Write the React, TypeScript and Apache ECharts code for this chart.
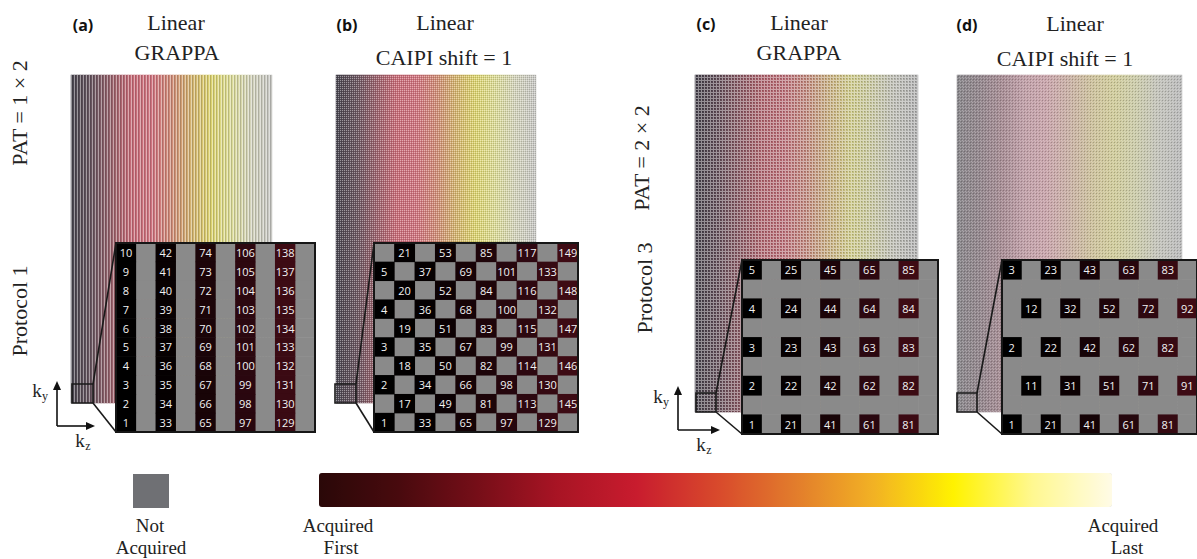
import React, { useEffect, useRef } from "react";
import * as echarts from "echarts";

// ---------- data ----------
// colour map of acquisition order (first -> last), evenly spaced stops
const COLORMAP = [
  "#2a0808", "#480a0e", "#760e18", "#a81424", "#c81c2e", "#d8482c",
  "#e27c2c", "#f2b224", "#fff200", "#fff890", "#fffbe6",
];
// how the colour map looks once mixed with the non-acquired points of each full pattern
const PATTERN_COLORS_AB = [
  "#4a4650", "#6a5660", "#9a626c", "#c86c78", "#d07480", "#d08c78",
  "#d4b470", "#dcd470", "#dcdc98", "#d4d4bc", "#c8c8c4",
];
const PATTERN_COLORS_C = [
  "#3e3a44", "#5a4650", "#80505a", "#a45862", "#b0606a", "#b4786c",
  "#bca070", "#c4c07c", "#bcbc94", "#b0b0a8", "#a4a4a4",
];
const PATTERN_COLORS_D = [
  "#8a888c", "#94888e", "#a88e96", "#c0a0a8", "#c8a4aa", "#c8b0a4",
  "#ccc09c", "#d0cc9c", "#ccccac", "#c4c4bc", "#bcbcbc",
];
const PATTERN_COLORS = [PATTERN_COLORS_AB, PATTERN_COLORS_AB, PATTERN_COLORS_C, PATTERN_COLORS_D];

// colours of the earliest acquisitions (inset cells)
const INSET_COLORS = ["#000000", "#050001", "#1a0408", "#2c0810", "#3e0b14"];
const NOT_ACQUIRED = "#8a8a8a";
const LEGEND_GRAY = "#6f7074";

// number of kz columns in each full sampling pattern
const BIG_COLUMNS = [67, 100, 112, 112];

// inset acquisition order, rows top -> bottom, 0 = not acquired
const INSET_A = [
  [10, 0, 42, 0, 74, 0, 106, 0, 138, 0],
  [9, 0, 41, 0, 73, 0, 105, 0, 137, 0],
  [8, 0, 40, 0, 72, 0, 104, 0, 136, 0],
  [7, 0, 39, 0, 71, 0, 103, 0, 135, 0],
  [6, 0, 38, 0, 70, 0, 102, 0, 134, 0],
  [5, 0, 37, 0, 69, 0, 101, 0, 133, 0],
  [4, 0, 36, 0, 68, 0, 100, 0, 132, 0],
  [3, 0, 35, 0, 67, 0, 99, 0, 131, 0],
  [2, 0, 34, 0, 66, 0, 98, 0, 130, 0],
  [1, 0, 33, 0, 65, 0, 97, 0, 129, 0],
];
const INSET_B = [
  [0, 21, 0, 53, 0, 85, 0, 117, 0, 149],
  [5, 0, 37, 0, 69, 0, 101, 0, 133, 0],
  [0, 20, 0, 52, 0, 84, 0, 116, 0, 148],
  [4, 0, 36, 0, 68, 0, 100, 0, 132, 0],
  [0, 19, 0, 51, 0, 83, 0, 115, 0, 147],
  [3, 0, 35, 0, 67, 0, 99, 0, 131, 0],
  [0, 18, 0, 50, 0, 82, 0, 114, 0, 146],
  [2, 0, 34, 0, 66, 0, 98, 0, 130, 0],
  [0, 17, 0, 49, 0, 81, 0, 113, 0, 145],
  [1, 0, 33, 0, 65, 0, 97, 0, 129, 0],
];
const INSET_C = [
  [5, 0, 25, 0, 45, 0, 65, 0, 85, 0],
  [0, 0, 0, 0, 0, 0, 0, 0, 0, 0],
  [4, 0, 24, 0, 44, 0, 64, 0, 84, 0],
  [0, 0, 0, 0, 0, 0, 0, 0, 0, 0],
  [3, 0, 23, 0, 43, 0, 63, 0, 83, 0],
  [0, 0, 0, 0, 0, 0, 0, 0, 0, 0],
  [2, 0, 22, 0, 42, 0, 62, 0, 82, 0],
  [0, 0, 0, 0, 0, 0, 0, 0, 0, 0],
  [1, 0, 21, 0, 41, 0, 61, 0, 81, 0],
];
const INSET_D = [
  [3, 0, 23, 0, 43, 0, 63, 0, 83, 0],
  [0, 0, 0, 0, 0, 0, 0, 0, 0, 0],
  [0, 12, 0, 32, 0, 52, 0, 72, 0, 92],
  [0, 0, 0, 0, 0, 0, 0, 0, 0, 0],
  [2, 0, 22, 0, 42, 0, 62, 0, 82, 0],
  [0, 0, 0, 0, 0, 0, 0, 0, 0, 0],
  [0, 11, 0, 31, 0, 51, 0, 71, 0, 91],
  [0, 0, 0, 0, 0, 0, 0, 0, 0, 0],
  [1, 0, 21, 0, 41, 0, 61, 0, 81, 0],
];
const INSETS = [INSET_A, INSET_B, INSET_C, INSET_D];

const PANEL_TAGS = ["(a)", "(b)", "(c)", "(d)"];
const PANEL_LINE1 = ["Linear", "Linear", "Linear", "Linear"];
const PANEL_LINE2 = ["GRAPPA", "CAIPI shift = 1", "GRAPPA", "CAIPI shift = 1"];

// ---------- layout ----------
const SERIF = "'Liberation Serif', 'Times New Roman', serif";
const SANS = "'Open Sans', 'Noto Sans', sans-serif";

const BIG_GRIDS = [
  { left: 71, top: 75, width: 201, height: 328 },
  { left: 336, top: 75, width: 200, height: 328 },
  { left: 695, top: 75, width: 223, height: 337 },
  { left: 957, top: 75, width: 225, height: 337 },
];
const INSET_GRIDS = [
  { left: 116, top: 243, width: 199, height: 189 },
  { left: 374, top: 243, width: 204, height: 189 },
  { left: 742, top: 260, width: 196, height: 174 },
  { left: 1002, top: 260, width: 195, height: 174 },
];
const ZOOM_BOX = [
  { x: 72, y: 384, w: 21, h: 19 },
  { x: 335, y: 384, w: 21, h: 19 },
  { x: 696, y: 393, w: 20, h: 19 },
  { x: 957, y: 393, w: 20, h: 19 },
];
const TITLE_POS = [
  { tag: [83, 25], l1: [176, 22], l2: [177, 52] },
  { tag: [347, 25], l1: [445, 22], l2: [444, 57] },
  { tag: [706, 24], l1: [799, 22], l2: [799, 52] },
  { tag: [967, 25], l1: [1075, 23], l2: [1065, 58] },
];

function makeTile(w: number, h: number, cells: [number, number, string][]) {
  const c = document.createElement("canvas");
  c.width = w;
  c.height = h;
  const g = c.getContext("2d")!;
  cells.forEach(([x, y, col]) => {
    g.fillStyle = col;
    g.fillRect(x, y, 1, 1);
  });
  return { image: c.toDataURL(), repeat: "repeat", imageWidth: w, imageHeight: h };
}

function insetData(grid: number[][], acquired: boolean) {
  const n = grid.length;
  const out: number[][] = [];
  grid.forEach((row, r) =>
    row.forEach((v, c) => {
      if (acquired ? v > 0 : true) out.push([c, n - 1 - r, acquired ? v : 0]);
    })
  );
  return out;
}
function bigData(n: number) {
  const out: number[][] = [];
  for (let i = 0; i < n; i++) out.push([i, 0, i]);
  return out;
}
const idx = (n: number) => Array.from({ length: n }, (_, i) => String(i));

function buildOption() {
  const grids: any[] = [];
  const xAxes: any[] = [];
  const yAxes: any[] = [];
  const series: any[] = [];
  const visualMaps: any[] = [];

  BIG_GRIDS.forEach((g, i) => {
    grids.push({ ...g, show: false });
    xAxes.push({ type: "category", gridIndex: i, data: idx(BIG_COLUMNS[i]), show: false });
    yAxes.push({ type: "category", gridIndex: i, data: ["0"], show: false });
    series.push({
      type: "heatmap",
      xAxisIndex: i,
      yAxisIndex: i,
      data: bigData(BIG_COLUMNS[i]),
      z: 1,
      silent: true,
    });
    visualMaps.push({
      type: "continuous",
      show: false,
      seriesIndex: i,
      dimension: 2,
      min: 0,
      max: BIG_COLUMNS[i] - 1,
      inRange: { color: PATTERN_COLORS[i] },
    });
  });

  INSET_GRIDS.forEach((g, i) => {
    const gi = 4 + i;
    const grid = INSETS[i];
    const maxV = Math.max(...grid.flat());
    grids.push({
      ...g,
      show: true,
      backgroundColor: "transparent",
      borderColor: "#161616",
      borderWidth: 2,
      z: 10,
    });
    xAxes.push({ type: "category", gridIndex: gi, data: idx(grid[0].length), show: false });
    yAxes.push({ type: "category", gridIndex: gi, data: idx(grid.length), show: false });
    series.push({
      type: "heatmap",
      xAxisIndex: gi,
      yAxisIndex: gi,
      data: insetData(grid, true),
      z: 6,
      silent: true,
      label: {
        show: true,
        color: "#f2f2f2",
        fontSize: 11,
        fontFamily: SANS,
        formatter: (p: any) => String(p.value[2]),
      },
    });
    visualMaps.push({
      type: "continuous",
      show: false,
      seriesIndex: 4 + i,
      dimension: 2,
      min: 1,
      max: maxV,
      inRange: { color: INSET_COLORS },
    });
  });

  // non-acquired background cells of the insets
  INSET_GRIDS.forEach((g, i) => {
    const gi = 4 + i;
    series.push({
      type: "heatmap",
      xAxisIndex: gi,
      yAxisIndex: gi,
      data: insetData(INSETS[i], false),
      z: 5,
      silent: true,
    });
    visualMaps.push({
      type: "continuous",
      show: false,
      seriesIndex: 8 + i,
      dimension: 2,
      min: 0,
      max: 1,
      inRange: { color: [NOT_ACQUIRED, NOT_ACQUIRED] },
    });
  });

  // colour bar
  visualMaps.push({
    type: "continuous",
    show: true,
    seriesIndex: [],
    min: 0,
    max: 1,
    orient: "horizontal",
    left: 319,
    top: 473,
    itemWidth: 34,
    itemHeight: 793,
    padding: 0,
    calculable: false,
    hoverLink: false,
    inRange: { color: COLORMAP },
  });

  const graphic: any[] = [];
  // sampling-pattern textures
  const L = "rgba(255,255,255,0.42)";
  const D = "rgba(0,0,0,0.16)";
  const tiles = [
    makeTile(3, 1, [[0, 0, D], [2, 0, L]]),
    makeTile(2, 2, [[0, 0, L], [1, 1, D]]),
    makeTile(3, 3, [[2, 0, L], [2, 1, L], [0, 2, L], [1, 2, L], [2, 2, L], [0, 0, D]]),
    makeTile(3, 3, [[1, 1, "rgba(0,0,0,0.2)"], [0, 0, "rgba(255,255,255,0.25)"], [2, 2, "rgba(255,255,255,0.25)"]]),
  ];
  BIG_GRIDS.forEach((g, i) => {
    graphic.push({
      type: "rect",
      silent: true,
      z: 2,
      shape: { x: g.left, y: g.top, width: g.width, height: g.height },
      style: { fill: tiles[i] as any },
    });
  });

  // zoom boxes + connectors
  ZOOM_BOX.forEach((b, i) => {
    const ig = INSET_GRIDS[i];
    graphic.push({
      type: "rect",
      z: 15,
      silent: true,
      shape: { x: b.x, y: b.y, width: b.w, height: b.h },
      style: { fill: "transparent", stroke: "#1a1a1a", lineWidth: 1.6 },
    });
    graphic.push({
      type: "line",
      z: 15,
      silent: true,
      shape: { x1: b.x + b.w, y1: b.y, x2: ig.left, y2: ig.top },
      style: { stroke: "#1a1a1a", lineWidth: 1.6 },
    });
    graphic.push({
      type: "line",
      z: 15,
      silent: true,
      shape: { x1: b.x + b.w, y1: b.y + b.h, x2: ig.left, y2: ig.top + ig.height },
      style: { stroke: "#1a1a1a", lineWidth: 1.6 },
    });
  });

  const text = (x: number, y: number, t: string, size: number, family: string, extra: any = {}) => ({
    type: "text",
    x,
    y,
    z: 20,
    silent: true,
    rotation: extra.rotation || 0,
    style: {
      text: t,
      fontSize: size,
      fontFamily: family,
      fontWeight: extra.weight || "normal",
      fill: extra.fill || "#222",
      textAlign: "center",
      textVerticalAlign: "middle",
    },
  });

  TITLE_POS.forEach((p, i) => {
    graphic.push(text(p.tag[0], p.tag[1], PANEL_TAGS[i], 16, SANS, { weight: "bold", fill: "#111" }));
    graphic.push(text(p.l1[0], p.l1[1], PANEL_LINE1[i], 22, SERIF));
    graphic.push(text(p.l2[0], p.l2[1], PANEL_LINE2[i], 22, SERIF));
  });

  // side labels
  graphic.push(text(19, 113, "PAT = 1 × 2", 22, SERIF, { rotation: Math.PI / 2 }));
  graphic.push(text(19, 311, "Protocol 1", 22, SERIF, { rotation: Math.PI / 2 }));
  graphic.push(text(641, 158, "PAT = 2 × 2", 22, SERIF, { rotation: Math.PI / 2 }));
  graphic.push(text(644, 288, "Protocol 3", 22, SERIF, { rotation: Math.PI / 2 }));

  // k-space axes
  const axes = [
    { ox: 57, oy: 426, tipY: 381, tipX: 95, ky: [40, 390], kz: [83, 440] },
    { ox: 678, oy: 430, tipY: 386, tipX: 720, ky: [661, 396], kz: [704, 444] },
  ];
  axes.forEach((a) => {
    graphic.push({
      type: "line", z: 20, silent: true,
      shape: { x1: a.ox, y1: a.oy, x2: a.ox, y2: a.tipY + 6 },
      style: { stroke: "#111", lineWidth: 1.6 },
    });
    graphic.push({
      type: "line", z: 20, silent: true,
      shape: { x1: a.ox, y1: a.oy, x2: a.tipX - 6, y2: a.oy },
      style: { stroke: "#111", lineWidth: 1.6 },
    });
    graphic.push({
      type: "polygon", z: 20, silent: true,
      shape: { points: [[a.ox, a.tipY], [a.ox - 4, a.tipY + 9], [a.ox + 4, a.tipY + 9]] },
      style: { fill: "#111" },
    });
    graphic.push({
      type: "polygon", z: 20, silent: true,
      shape: { points: [[a.tipX, a.oy], [a.tipX - 9, a.oy - 4], [a.tipX - 9, a.oy + 4]] },
      style: { fill: "#111" },
    });
    graphic.push(text(a.ky[0] - 3, a.ky[1], "k", 19, SERIF));
    graphic.push(text(a.ky[0] + 5, a.ky[1] + 6, "y", 12, SERIF));
    graphic.push(text(a.kz[0] - 3, a.kz[1], "k", 19, SERIF));
    graphic.push(text(a.kz[0] + 5, a.kz[1] + 6, "z", 12, SERIF));
  });

  // legend
  graphic.push({
    type: "rect", z: 20, silent: true,
    shape: { x: 133, y: 474, width: 36, height: 34 },
    style: { fill: LEGEND_GRAY },
  });
  graphic.push(text(150, 525, "Not", 19, SERIF));
  graphic.push(text(151, 547, "Acquired", 19, SERIF));
  graphic.push(text(338, 525, "Acquired", 19, SERIF));
  graphic.push(text(341, 547, "First", 19, SERIF));
  graphic.push(text(1123, 525, "Acquired", 19, SERIF));
  graphic.push(text(1127, 547, "Last", 19, SERIF));

  return {
    animation: false,
    backgroundColor: "#ffffff",
    grid: grids,
    xAxis: xAxes,
    yAxis: yAxes,
    visualMap: visualMaps,
    series,
    graphic,
  };
}

export default function App() {
  const ref = useRef<HTMLDivElement>(null);
  useEffect(() => {
    const chart = echarts.init(ref.current!, null, { renderer: "svg" });
    chart.setOption(buildOption() as any);
    return () => chart.dispose();
  }, []);
  return (
    <div
      ref={ref}
      style={{ position: "absolute", left: 0, top: 0, width: 1197, height: 559, background: "#fff" }}
    />
  );
}
